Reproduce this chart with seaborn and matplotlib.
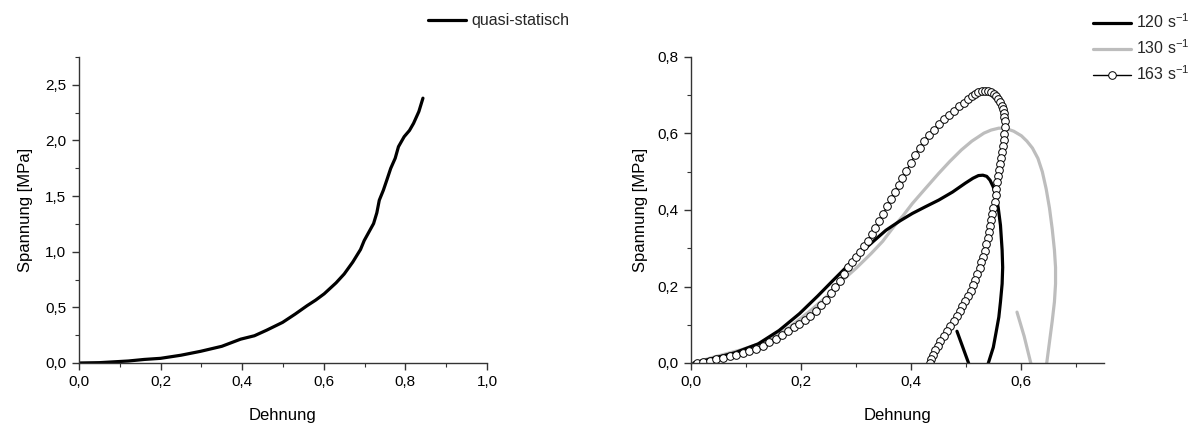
import matplotlib
matplotlib.use("Agg")
import matplotlib.pyplot as plt
import seaborn as sns
import numpy as np
from matplotlib.ticker import MultipleLocator, FuncFormatter

# ---------------- data ----------------
qs_x = [0.0, 0.05, 0.121, 0.16, 0.2, 0.25, 0.298, 0.35, 0.396, 0.43, 0.46, 0.499,
        0.53, 0.559, 0.58, 0.601, 0.63, 0.65, 0.671, 0.69, 0.699, 0.722, 0.73,
        0.736, 0.746, 0.755, 0.764, 0.775, 0.783, 0.797, 0.81, 0.82, 0.833, 0.843]
qs_y = [0.0, 0.003, 0.018, 0.032, 0.042, 0.07, 0.105, 0.15, 0.214, 0.245, 0.295, 0.365,
        0.44, 0.515, 0.565, 0.622, 0.72, 0.8, 0.907, 1.02, 1.1, 1.253, 1.35,
        1.463, 1.553, 1.65, 1.749, 1.84, 1.944, 2.034, 2.09, 2.154, 2.26, 2.38]

r120_x = [0.005, 0.04, 0.08, 0.122, 0.16, 0.197, 0.23, 0.258, 0.29, 0.313, 0.335, 0.354,
          0.38, 0.402, 0.425, 0.45, 0.475, 0.498, 0.512, 0.522, 0.53, 0.537, 0.543,
          0.549, 0.554, 0.558, 0.562, 0.565, 0.566, 0.565, 0.562, 0.559, 0.554, 0.549,
          0.54, 0.522, 0.504, 0.483]
r120_y = [0.0, 0.012, 0.027, 0.05, 0.085, 0.129, 0.175, 0.216, 0.262, 0.295, 0.323, 0.347,
          0.372, 0.391, 0.408, 0.426, 0.447, 0.47, 0.483, 0.49, 0.491, 0.488, 0.478,
          0.46, 0.435, 0.405, 0.36, 0.295, 0.25, 0.207, 0.16, 0.12, 0.08, 0.041,
          0.0, -0.06, 0.0, 0.083]

r130_x = [0.005, 0.04, 0.09, 0.142, 0.18, 0.217, 0.245, 0.272, 0.3, 0.327, 0.348, 0.368,
          0.385, 0.402, 0.425, 0.45, 0.47, 0.491, 0.51, 0.532, 0.545, 0.559, 0.572,
          0.586, 0.6, 0.61, 0.62, 0.63, 0.638, 0.645, 0.651, 0.656, 0.66, 0.662,
          0.662, 0.66, 0.656, 0.651, 0.646, 0.631, 0.617, 0.605, 0.592]
r130_y = [0.0, 0.015, 0.034, 0.059, 0.095, 0.137, 0.172, 0.212, 0.248, 0.286, 0.318, 0.356,
          0.385, 0.417, 0.455, 0.496, 0.527, 0.557, 0.58, 0.601, 0.609, 0.614, 0.613,
          0.606, 0.594, 0.58, 0.562, 0.535, 0.5, 0.455, 0.405, 0.35, 0.295, 0.25,
          0.207, 0.16, 0.11, 0.055, 0.0, -0.06, 0.0, 0.07, 0.133]

r163_x = [0.011, 0.022, 0.034, 0.046, 0.058, 0.070, 0.082, 0.094, 0.106, 0.118, 0.130,
          0.142, 0.154, 0.165, 0.176, 0.187, 0.197, 0.207, 0.217, 0.227, 0.236, 0.245,
          0.254, 0.262, 0.270, 0.278, 0.286, 0.293, 0.300, 0.307, 0.314, 0.321, 0.328,
          0.335, 0.342, 0.349, 0.356, 0.363, 0.370, 0.377, 0.384, 0.391, 0.399, 0.407,
          0.415, 0.423, 0.432, 0.441, 0.450, 0.459, 0.468, 0.477, 0.486, 0.495, 0.503,
          0.510, 0.516, 0.522, 0.528, 0.534, 0.540, 0.545, 0.550, 0.554, 0.558, 0.561,
          0.564, 0.566, 0.568, 0.569, 0.570, 0.570, 0.569, 0.568, 0.567, 0.565, 0.563,
          0.561, 0.559, 0.557, 0.555, 0.554, 0.553, 0.552, 0.549, 0.547, 0.545, 0.543,
          0.541, 0.539, 0.536, 0.533, 0.530, 0.527, 0.524, 0.520, 0.516, 0.512, 0.508,
          0.503, 0.498, 0.493, 0.488, 0.483, 0.477, 0.471, 0.465, 0.459, 0.453, 0.448,
          0.443, 0.439, 0.436, 0.434]
r163_y = [0.000, 0.003, 0.006, 0.010, 0.014, 0.018, 0.022, 0.026, 0.031, 0.037, 0.045,
          0.054, 0.064, 0.074, 0.083, 0.093, 0.102, 0.112, 0.124, 0.137, 0.151, 0.166,
          0.183, 0.199, 0.215, 0.232, 0.250, 0.265, 0.278, 0.291, 0.305, 0.320, 0.336,
          0.352, 0.370, 0.390, 0.410, 0.429, 0.448, 0.466, 0.484, 0.503, 0.522, 0.545,
          0.563, 0.580, 0.596, 0.610, 0.624, 0.637, 0.649, 0.660, 0.671, 0.681, 0.690,
          0.697, 0.703, 0.708, 0.711, 0.712, 0.711, 0.708, 0.703, 0.697, 0.690, 0.682,
          0.673, 0.664, 0.654, 0.644, 0.632, 0.616, 0.600, 0.584, 0.568, 0.552, 0.536,
          0.520, 0.504, 0.488, 0.472, 0.456, 0.440, 0.422, 0.406, 0.390, 0.374, 0.358,
          0.342, 0.326, 0.310, 0.294, 0.278, 0.263, 0.248, 0.233, 0.218, 0.203, 0.189,
          0.175, 0.161, 0.148, 0.135, 0.122, 0.109, 0.096, 0.083, 0.070, 0.057, 0.045,
          0.033, 0.021, 0.010, 0.000]

label_qs = "quasi-statisch"
labels_rates = ["120 s$^{-1}$", "130 s$^{-1}$", "163 s$^{-1}$"]
xlabel = "Dehnung"
ylabel = "Spannung [MPa]"

# ---------------- style ----------------
sns.set_theme(style="ticks")
plt.rcParams["font.family"] = ["Liberation Sans", "DejaVu Sans"]
plt.rcParams["mathtext.default"] = "regular"

W, H = 1191, 424
fig = plt.figure(figsize=(W / 100, H / 100), dpi=100)
ax1 = fig.add_axes([79 / W, 1 - 363 / H, 408 / W, 306 / H])
ax2 = fig.add_axes([691 / W, 1 - 363 / H, 413 / W, 306 / H])

comma = FuncFormatter(lambda v, p: f"{v:.1f}".replace(".", ","))

sns.lineplot(x=qs_x, y=qs_y, ax=ax1, sort=False, estimator=None, color="black",
             linewidth=2.3, label=label_qs)

sns.lineplot(x=r130_x, y=r130_y, ax=ax2, sort=False, estimator=None, color="#bdbdbd",
             linewidth=2.3, label=labels_rates[1])
sns.lineplot(x=r120_x, y=r120_y, ax=ax2, sort=False, estimator=None, color="black",
             linewidth=2.3, label=labels_rates[0])
sns.lineplot(x=r163_x, y=r163_y, ax=ax2, sort=False, estimator=None, color="black",
             linewidth=1.0, marker="o", markersize=5.5, markerfacecolor="white",
             markeredgecolor="black", markeredgewidth=0.7, label=labels_rates[2])

ax1.set_xlim(0, 1.0)
ax1.set_ylim(0, 2.75)
ax1.xaxis.set_major_locator(MultipleLocator(0.2))
ax1.xaxis.set_minor_locator(MultipleLocator(0.1))
ax1.yaxis.set_major_locator(MultipleLocator(0.5))
ax1.yaxis.set_minor_locator(MultipleLocator(0.25))

ax2.set_xlim(0, 0.75)
ax2.set_ylim(0, 0.8)
ax2.xaxis.set_major_locator(MultipleLocator(0.2))
ax2.xaxis.set_minor_locator(MultipleLocator(0.1))
ax2.yaxis.set_major_locator(MultipleLocator(0.2))
ax2.yaxis.set_minor_locator(MultipleLocator(0.1))

for ax, ylp in ((ax1, 9), (ax2, 7)):
    ax.xaxis.set_major_formatter(comma)
    ax.yaxis.set_major_formatter(comma)
    for s in ("top", "right"):
        ax.spines[s].set_visible(False)
    for s in ("left", "bottom"):
        ax.spines[s].set_color("#333333")
        ax.spines[s].set_linewidth(1.0)
    ax.tick_params(which="major", direction="out", length=5, width=1.0,
                   color="#333333", labelsize=11, labelcolor="black", pad=4)
    ax.tick_params(which="minor", direction="out", length=3, width=0.8,
                   color="#333333")
    ax.set_xlabel(xlabel, fontsize=12, labelpad=13, color="black")
    ax.set_ylabel(ylabel, fontsize=12, labelpad=ylp, color="black")
    ax.set_facecolor("white")

ax1.legend(loc="center left", bbox_to_anchor=(428 / W, 1 - 21 / H),
           bbox_transform=fig.transFigure, frameon=False, fontsize=11.5,
           handlelength=2.4, handletextpad=0.3, borderpad=0, borderaxespad=0)

h, l = ax2.get_legend_handles_labels()
order = [l.index(t) for t in labels_rates]
ax2.legend([h[i] for i in order], [l[i] for i in order], loc="center left",
           bbox_to_anchor=(1093 / W, 1 - 48 / H), bbox_transform=fig.transFigure,
           frameon=False, fontsize=11.5, handlelength=2.4, handletextpad=0.3,
           borderpad=0, borderaxespad=0, labelspacing=0.45, numpoints=1)

fig.savefig("out.png", dpi=100, facecolor="white")
